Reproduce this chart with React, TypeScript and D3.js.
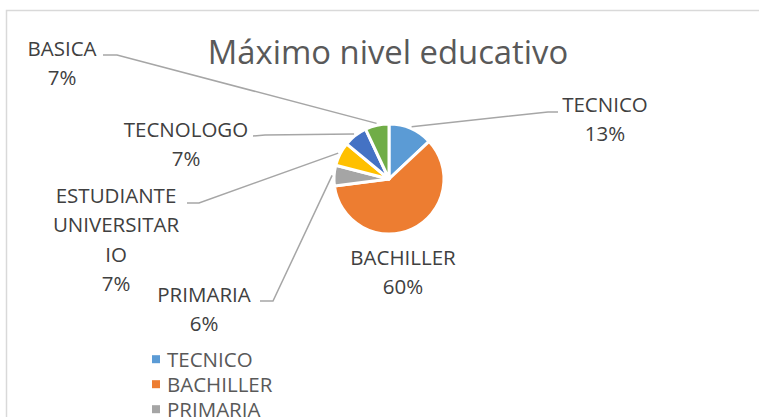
import React from "react";
import * as d3 from "d3";

const categories = ["TECNICO", "BACHILLER", "PRIMARIA", "ESTUDIANTE UNIVERSITARIO", "TECNOLOGO", "BASICA"];
const values = [13, 60, 6, 7, 7, 7];
const colors = ["#5B9BD5", "#ED7D31", "#A5A5A5", "#FFC000", "#4472C4", "#70AD47"];
const labelLines = [
  ["TECNICO"],
  ["BACHILLER"],
  ["PRIMARIA"],
  ["ESTUDIANTE", "UNIVERSITAR", "IO"],
  ["TECNOLOGO"],
  ["BASICA"],
];
const legendShown = ["TECNICO", "BACHILLER", "PRIMARIA"];

// layout (label anchor positions as placed in the original chart)
const W = 759, H = 417;
const CX = 389, CY = 179, R = 55;
const labelLayout = [
  { x: 605, y: 112, leader: [[558, 112], [548, 112]] },
  { x: 403, y: 265, leader: null },
  { x: 204, y: 302, leader: [[260, 301], [273, 301]] },
  { x: 116, y: 203, leader: [[187, 203], [199, 203]] },
  { x: 186, y: 137, leader: [[253, 136], [265, 135]] },
  { x: 62, y: 56, leader: [[103, 55], [117, 55]] },
];
const FONT = "'Open Sans', 'Liberation Sans', sans-serif";

export default function App() {
  const total = d3.sum(values);
  const pie = d3.pie<number>().sort(null).value((d) => d);
  const arcs = pie(values);
  const arc = d3.arc<d3.PieArcDatum<number>>().innerRadius(0).outerRadius(R);
  const fmt = d3.format(".0%");
  const lineGen = d3.line();
  const LH = 29.3;

  return (
    <svg width={W} height={H} style={{ position: "absolute", left: 0, top: 0, background: "#fff" }}>
      <rect x={6.5} y={10.5} width={W + 10} height={H + 10} fill="#fff" stroke="#D9D9D9" strokeWidth={1.5} />
      <text x={388} y={64} textAnchor="middle" fontFamily={FONT} fontSize={32.8} fill="#595959">
        Máximo nivel educativo
      </text>
      <g transform={`translate(${CX},${CY})`}>
        {arcs.map((a, i) => (
          <path key={i} d={arc(a) || ""} fill={colors[i]} stroke="#fff" strokeWidth={3} strokeLinejoin="round" />
        ))}
      </g>
      {arcs.map((a, i) => {
        const L = labelLayout[i];
        if (!L.leader) return null;
        const mid = (a.startAngle + a.endAngle) / 2;
        const rr = R + 2;
        const end: [number, number] = [CX + rr * Math.sin(mid), CY - rr * Math.cos(mid)];
        const pts = [...(L.leader as [number, number][]), end];
        return <path key={"l" + i} d={lineGen(pts) || ""} fill="none" stroke="#A6A6A6" strokeWidth={1.5} />;
      })}
      {arcs.map((a, i) => {
        const L = labelLayout[i];
        const lines = [...labelLines[i], fmt(values[i] / total)];
        return (
          <text key={"t" + i} textAnchor="middle" fontFamily={FONT} fontSize={20.5} fill="#404040">
            {lines.map((s, j) => (
              <tspan key={j} x={L.x} y={L.y + j * LH}>
                {s}
              </tspan>
            ))}
          </text>
        );
      })}
      {legendShown.map((name, j) => {
        const i = categories.indexOf(name);
        const y = 366.7 + j * 25;
        return (
          <g key={"lg" + j}>
            <rect x={152} y={y - 11.5} width={8} height={8} fill={colors[i]} />
            <text x={167} y={y} fontFamily={FONT} fontSize={20.5} fill="#595959">
              {name}
            </text>
          </g>
        );
      })}
    </svg>
  );
}
